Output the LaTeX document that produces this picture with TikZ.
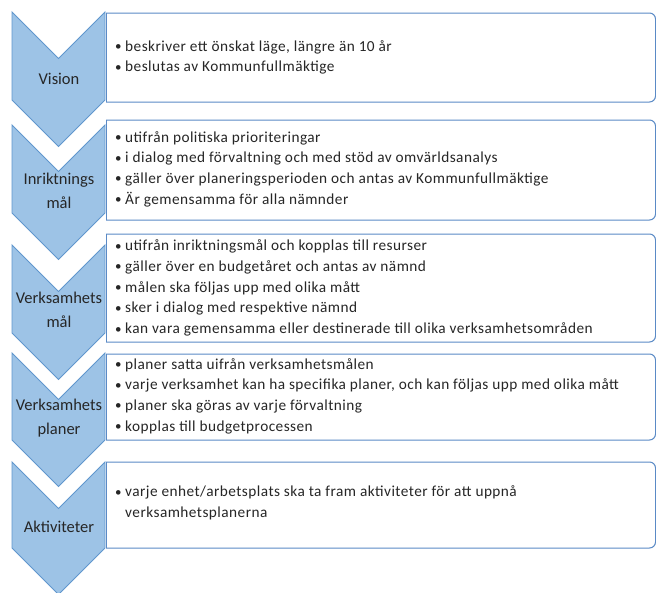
\documentclass[tikz,border=0pt]{standalone}
\usepackage{fontspec}
\setmainfont{Carlito}
\newfontfamily\bulfont[LetterSpace=3]{Carlito}
\definecolor{chevfill}{RGB}{157,195,230}
\definecolor{chevline}{RGB}{96,150,205}
\definecolor{boxline}{RGB}{90,138,198}
\definecolor{txt}{RGB}{38,38,38}
\newcommand\itm{\makebox[10pt][l]{\raisebox{0.5pt}{\scalebox{0.85}{•}}}}
\begin{document}
\begin{tikzpicture}[x=1pt,y=-1pt,
  chev/.style={fill=chevfill,draw=chevline,line width=0.9pt,line join=miter},
  lbl/.style={font=\fontsize{16.5}{24}\selectfont,text=txt,align=center,inner sep=0pt},
  bul/.style={font=\bulfont\fontsize{15.3}{20.7}\selectfont,text=txt,align=left,anchor=west,inner sep=0pt}]
\useasboundingbox (0,0) rectangle (656,592);
% boxes
\foreach \T/\B in {13/102,120/220,234/342,354/440,462/548}{
  \fill[white] (106,\T) rectangle (655.5,\B);
  \draw[boxline,line width=1pt,rounded corners=6pt] (106,\T) -- (655.5,\T) -- (655.5,\B) -- (106,\B);
  \draw[boxline,line width=1pt] (106,\B) -- (106,\T);
}
% chevrons
\foreach \T/\B in {12/100,125/213,245/333,353/440,462/548}{
  \path[chev] (12,\T) -- (58.5,\T+46.5) -- (105,\T) -- (105,\B) -- (58.5,\B+46.5) -- (12,\B) -- cycle;
}
% labels
\node[lbl] (l1) at (59,79) {Vision};
\node[lbl] (l2) at (59,191) {Inriktnings\\mål};
\node[lbl] (l3) at (59,310) {Verksamhets\\mål};
\node[lbl] (l4) at (59,418) {Verksamhets\\planer};
\node[lbl] (l5) at (59,527) {Aktiviteter};
% texts
\node[bul] (t1) at (115,57.5) {\itm beskriver ett önskat läge, längre än 10 år\\\itm beslutas av Kommunfullmäktige};
\node[bul] (t2) at (115,169) {\itm utifrån politiska prioriteringar\\\itm i dialog med förvaltning och med stöd av omvärldsanalys\\\itm gäller över planeringsperioden och antas av Kommunfullmäktige\\\itm Är gemensamma för alla nämnder};
\node[bul] (t3) at (115,288) {\itm utifrån inriktningsmål och kopplas till resurser\\\itm gäller över en budgetåret och antas av nämnd\\\itm målen ska följas upp med olika mått\\\itm sker i dialog med respektive nämnd\\\itm kan vara gemensamma eller destinerade till olika verksamhetsområden};
\node[bul] (t4) at (115,396) {\itm planer satta uifrån verksamhetsmålen\\\itm varje verksamhet kan ha specifika planer, och kan följas upp med olika mått\\\itm planer ska göras av varje förvaltning\\\itm kopplas till budgetprocessen};
\node[bul] (t5) at (115,503) {\itm varje enhet/arbetsplats ska ta fram aktiviteter för att uppnå\\\hspace*{10pt}verksamhetsplanerna};
\end{tikzpicture}
\end{document}
